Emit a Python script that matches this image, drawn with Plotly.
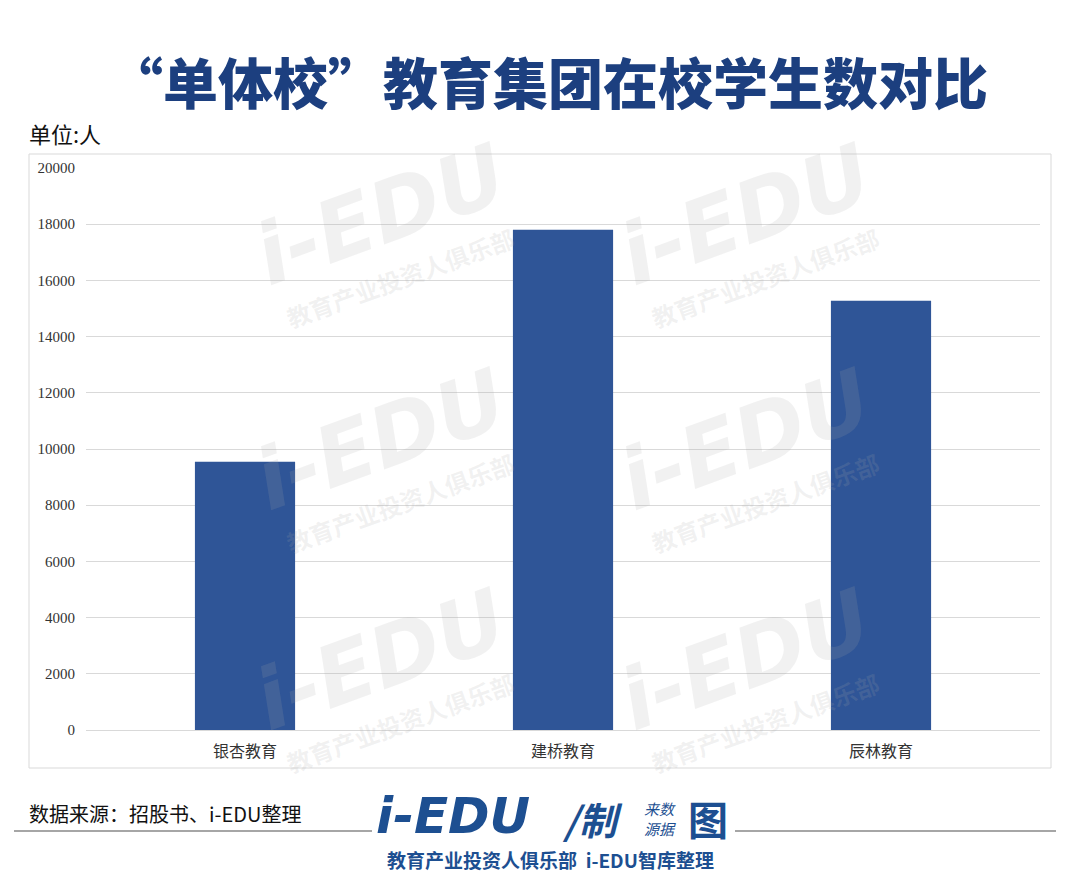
import plotly.graph_objects as go

categories = ["银杏教育", "建桥教育", "辰林教育"]
students = [9550, 17800, 15280]
y_ticks = list(range(0, 20001, 2000))

W, H = 1080, 883
L, R, T, B = 86, 40, 168, 153
PW, PH = W - L - R, H - T - B


def px(x):
    return (x - L) / PW


def py(y):
    return (H - B - y) / PH


fig = go.Figure()
fig.add_trace(go.Bar(
    x=categories, y=students, width=0.315,
    marker=dict(color="#2f5597", line=dict(width=0)),
    hoverinfo="x+y",
))

shapes = [
    # chart box
    dict(type="rect", xref="paper", yref="paper",
         x0=px(29), x1=px(1051), y0=py(768), y1=py(154),
         line=dict(color="#d9d9d9", width=1), fillcolor="rgba(0,0,0,0)", layer="below"),
    # footer line (left and right of the logo)
    dict(type="line", xref="paper", yref="paper",
         x0=px(14), x1=px(372), y0=py(831), y1=py(831),
         line=dict(color="#a6a6a6", width=2)),
    dict(type="line", xref="paper", yref="paper",
         x0=px(735), x1=px(1056), y0=py(831), y1=py(831),
         line=dict(color="#a6a6a6", width=2)),
]

annotations = []

# watermarks
wm_pos = [(380, 215), (745, 215),
          (380, 440), (745, 440),
          (380, 660), (745, 660)]
for (wx, wy) in wm_pos:
    annotations.append(dict(
        xref="paper", yref="paper", x=px(wx), y=py(wy), text="<i><b>i-EDU</b></i>",
        showarrow=False, textangle=-20, xanchor="center", yanchor="middle",
        font=dict(family="DejaVu Sans", size=84, color="rgba(170,170,170,0.16)")))
    annotations.append(dict(
        xref="paper", yref="paper", x=px(wx + 20), y=py(wy + 62), text="<b>教育产业投资人俱乐部</b>",
        showarrow=False, textangle=-20, xanchor="center", yanchor="middle",
        font=dict(family="Noto Sans CJK SC", size=24, color="rgba(170,170,170,0.16)")))

# title
annotations.append(dict(
    xref="paper", yref="paper", x=px(548), y=py(80), text="“单体校”教育集团在校学生数对比",
    showarrow=False, xanchor="center", yanchor="middle",
    font=dict(family="Noto Sans CJK SC", size=55, color="#1c3f7f", weight=900)))
# unit
annotations.append(dict(
    xref="paper", yref="paper", x=px(27), y=py(133), text="单位:人",
    showarrow=False, xanchor="left", yanchor="middle",
    font=dict(family="Noto Sans CJK SC", size=22, color="#111111")))
# source
annotations.append(dict(
    xref="paper", yref="paper", x=px(27), y=py(813), text="数据来源：招股书、i-EDU整理",
    showarrow=False, xanchor="left", yanchor="middle",
    font=dict(family="Noto Sans CJK SC", size=20, color="#111111")))
# logo
annotations.append(dict(
    xref="paper", yref="paper", x=px(374), y=py(816), text="<b><i>i-EDU</i></b>",
    showarrow=False, xanchor="left", yanchor="middle",
    font=dict(family="DejaVu Sans", size=50, color="#1d4f91")))
annotations.append(dict(
    xref="paper", yref="paper", x=px(560), y=py(818), text="<b><i>/制</i></b>",
    showarrow=False, xanchor="left", yanchor="middle",
    font=dict(family="Noto Sans CJK SC", size=38, color="#1d4f91")))
annotations.append(dict(
    xref="paper", yref="paper", x=px(660), y=py(818), text="<i>来数<br>源据</i>",
    showarrow=False, xanchor="center", yanchor="middle",
    font=dict(family="Noto Sans CJK SC", size=15, color="#1d4f91")))
annotations.append(dict(
    xref="paper", yref="paper", x=px(686), y=py(818), text="<b>图</b>",
    showarrow=False, xanchor="left", yanchor="middle",
    font=dict(family="Noto Sans CJK SC", size=40, color="#1d4f91")))
annotations.append(dict(
    xref="paper", yref="paper", x=px(550), y=py(859), text="<b>教育产业投资人俱乐部  i-EDU智库整理</b>",
    showarrow=False, xanchor="center", yanchor="middle",
    font=dict(family="Noto Sans CJK SC", size=19, color="#1d4f91")))

fig.update_layout(
    width=W, height=H,
    margin=dict(l=L, r=R, t=T, b=B, pad=0),
    paper_bgcolor="white", plot_bgcolor="white",
    showlegend=False,
    shapes=shapes,
    annotations=annotations,
    xaxis=dict(showgrid=False, showline=False, ticks="", ticklabelstandoff=10,
               tickfont=dict(family="Noto Sans CJK SC", size=16, color="#333333")),
    yaxis=dict(range=[0, 20000], tickvals=y_ticks, ticktext=[str(v) for v in y_ticks],
               showgrid=True, gridcolor="#d9d9d9", gridwidth=1,
               zeroline=True, zerolinecolor="#d9d9d9", zerolinewidth=1,
               showline=False, ticks="", ticklabelstandoff=10,
               tickfont=dict(family="Liberation Serif", size=15, color="#333333")),
)

fig.write_html("out.html", config={"displayModeBar": False},
               post_script="document.body.style.margin='0';")
